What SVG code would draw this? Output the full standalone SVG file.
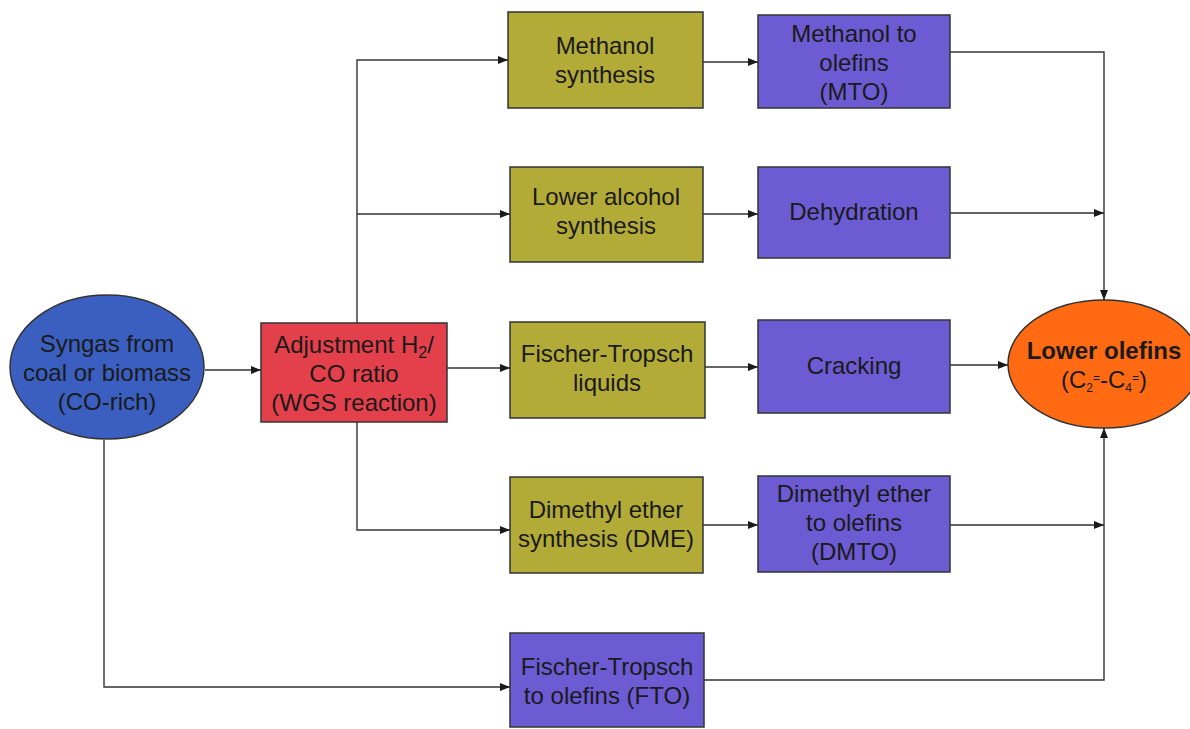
<svg xmlns="http://www.w3.org/2000/svg" width="1190" height="729" viewBox="0 0 1190 729">
<defs>
<marker id="ah" viewBox="0 0 10 10" refX="10" refY="5" markerWidth="14" markerHeight="10" markerUnits="userSpaceOnUse" orient="auto">
<path d="M0,1 L10,5 L0,9 Z" fill="#1a1a1a"/>
</marker>
</defs>
<style>
.t{font-family:"Liberation Sans",Arial,sans-serif;font-size:24px;fill:#1a1a1a;text-anchor:middle}
.ol{fill:#b3ab38;stroke:#333;stroke-width:1.5}
.pu{fill:#6c5bd2;stroke:#333;stroke-width:1.5}
.a{fill:none;stroke:#333;stroke-width:1.4;marker-end:url(#ah)}
</style>
<rect width="1190" height="729" fill="#fff"/>
<g id="connectors">
<line class="a" x1="205" y1="370" x2="261" y2="370"/>
<polyline class="a" points="357,323 357,60 508,60"/>
<line class="a" x1="357" y1="214" x2="510" y2="214"/>
<polyline class="a" points="357,422 357,530 510,530"/>
<line class="a" x1="447" y1="368" x2="510" y2="368"/>
<line class="a" x1="703" y1="62" x2="758" y2="62"/>
<line class="a" x1="703" y1="214" x2="758" y2="214"/>
<line class="a" x1="705" y1="367" x2="758" y2="367"/>
<line class="a" x1="703" y1="525" x2="758" y2="525"/>
<polyline class="a" points="950,52 1104,52 1104,300"/>
<line class="a" x1="950" y1="213" x2="1104" y2="213"/>
<line class="a" x1="950" y1="365" x2="1008" y2="365"/>
<line class="a" x1="950" y1="525" x2="1104" y2="525"/>
<polyline class="a" points="704,680 1104,680 1104,428"/>
<polyline class="a" points="104,440 104,687 510,687"/>
</g>
<g id="syngas">
<ellipse cx="107" cy="367" rx="97" ry="72" fill="#3b5fc0" stroke="#333" stroke-width="1.5"/>
<text class="t" x="107" y="352">Syngas from</text>
<text class="t" x="107" y="381">coal or biomass</text>
<text class="t" x="107" y="410">(CO-rich)</text>
</g>
<g id="adjust">
<rect x="261" y="323" width="186" height="99" fill="#e4404b" stroke="#333" stroke-width="1.5"/>
<text class="t" x="354" y="353">Adjustment H<tspan font-size="16" dy="5">2</tspan><tspan dy="-5">/</tspan></text>
<text class="t" x="354" y="382">CO ratio</text>
<text class="t" x="354" y="411">(WGS reaction)</text>
</g>
<g id="methanol">
<rect class="ol" x="508" y="12" width="195" height="96"/>
<text class="t" x="605" y="54">Methanol</text>
<text class="t" x="605" y="83">synthesis</text>
</g>
<g id="alcohol">
<rect class="ol" x="510" y="167" width="193" height="95"/>
<text class="t" x="606" y="205">Lower alcohol</text>
<text class="t" x="606" y="234">synthesis</text>
</g>
<g id="ftl">
<rect class="ol" x="510" y="322" width="195" height="96"/>
<text class="t" x="607" y="362">Fischer-Tropsch</text>
<text class="t" x="607" y="391">liquids</text>
</g>
<g id="dme">
<rect class="ol" x="510" y="477" width="193" height="96"/>
<text class="t" x="606" y="518">Dimethyl ether</text>
<text class="t" x="606" y="547">synthesis (DME)</text>
</g>
<g id="mto">
<rect class="pu" x="758" y="15" width="192" height="93"/>
<text class="t" x="854" y="42">Methanol to</text>
<text class="t" x="854" y="71">olefins</text>
<text class="t" x="854" y="100">(MTO)</text>
</g>
<g id="dehydration">
<rect class="pu" x="758" y="167" width="192" height="91"/>
<text class="t" x="854" y="220">Dehydration</text>
</g>
<g id="cracking">
<rect class="pu" x="758" y="320" width="192" height="93"/>
<text class="t" x="854" y="374">Cracking</text>
</g>
<g id="dmto">
<rect class="pu" x="758" y="476" width="192" height="96"/>
<text class="t" x="854" y="502">Dimethyl ether</text>
<text class="t" x="854" y="531">to olefins</text>
<text class="t" x="854" y="560">(DMTO)</text>
</g>
<g id="fto">
<rect class="pu" x="510" y="633" width="194" height="94"/>
<text class="t" x="607" y="675">Fischer-Tropsch</text>
<text class="t" x="607" y="704">to olefins (FTO)</text>
</g>
<g id="olefins">
<ellipse cx="1104" cy="364" rx="96" ry="64" fill="#ff6a12" stroke="#333" stroke-width="1.5"/>
<text class="t" x="1104" y="359" font-weight="bold">Lower olefins</text>
<text class="t" x="1104" y="388">(C<tspan font-size="12" dy="4">2</tspan><tspan font-size="12" dy="-10">=</tspan><tspan dy="6">-C</tspan><tspan font-size="12" dy="4">4</tspan><tspan font-size="12" dy="-10">=</tspan><tspan dy="6">)</tspan></text>
</g>
</svg>
